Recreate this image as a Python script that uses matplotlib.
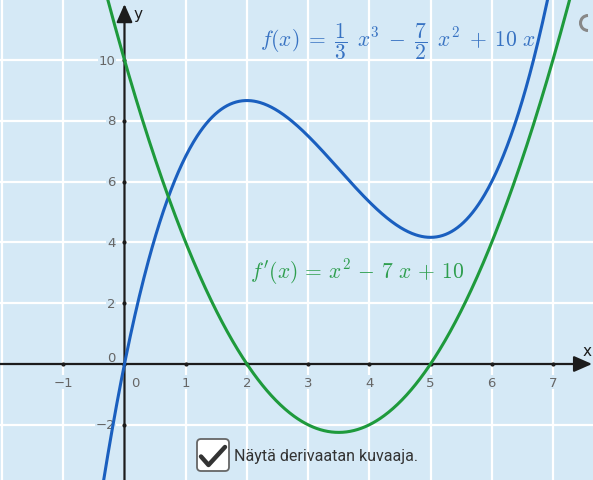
import numpy as np
import matplotlib.pyplot as plt
from matplotlib.patches import FancyBboxPatch, Arc
from matplotlib.lines import Line2D
from matplotlib.transforms import Affine2D

# function and its derivative (coefficients, highest power first)
f_coef = [1 / 3, -7 / 2, 10, 0]
df_coef = [1, -7, 10]

x_ticks = [-1, 0, 1, 2, 3, 4, 5, 6, 7]
x_tick_labels = ['\u22121', '0', '1', '2', '3', '4', '5', '6', '7']
y_ticks = [-2, 0, 2, 4, 6, 8, 10]
y_tick_labels = ['\u22122', '0', '2', '4', '6', '8', '10']
x_grid = [-2, -1, 1, 2, 3, 4, 5, 6, 7]
y_grid = [-2, 2, 4, 6, 8, 10]

f_label = r'$f(x) \;=\; \dfrac{1}{3}\ \, x^3 \;-\; \dfrac{7}{2}\ \, x^2 \;+\; 10\ x$'
df_label = r"$f'(x) \,=\, x^2 \,-\, 7\ x \,+\, 10$"
check_text = 'Näytä derivaatan kuvaaja.'

bg = '#d5e9f6'
blue = '#1a5fbf'
green = '#1e9a3c'
axis_col = '#1c1c1c'
tick_col = '#666666'

plt.rcParams['mathtext.fontset'] = 'cm'

W, H = 593, 481
fig = plt.figure(figsize=(W / 100, H / 100), dpi=100)
fig.patch.set_facecolor(bg)
ax = fig.add_axes([0, 0, 1, 1])
ax.set_axis_off()
ax.set_xlim(-2.034, 7.655)
ax.set_ylim(-3.816, 12.007)

# pixel coords, origin top-left
px = Affine2D().scale(1 / W, -1 / H).translate(0, 1) + fig.transFigure

# grid
for xv in x_grid:
    ax.axvline(xv, color='white', lw=1.6, zorder=1)
for yv in y_grid:
    ax.axhline(yv, color='white', lw=1.6, zorder=1)

# axes with arrows
arrow = dict(arrowstyle='-|>,head_length=0.5,head_width=0.22', color=axis_col,
             lw=1.6, mutation_scale=22, shrinkA=0, shrinkB=0)
ax.annotate('', xy=(7.64, 0), xytext=(-2.1, 0), arrowprops=arrow, zorder=3)
ax.annotate('', xy=(0, 11.84), xytext=(0, -4), arrowprops=arrow, zorder=3)
ax.plot(x_ticks, np.zeros(len(x_ticks)), 'o', ms=2, color=axis_col, zorder=3)
ax.plot(np.zeros(len(y_ticks)), y_ticks, 'o', ms=2, color=axis_col, zorder=3)
ax.text(133, 14, 'y', transform=px, fontsize=11, color=axis_col, va='center', ha='left')
ax.text(583, 352, 'x', transform=px, fontsize=11, color=axis_col, va='center', ha='left')

lbl_box = dict(facecolor=bg, edgecolor='none', pad=0.6)
for xv, lbl in zip(x_ticks, x_tick_labels):
    off = (7.5, -13) if xv == 0 else (0, -13)
    ax.annotate(lbl, (xv, 0), xytext=off, textcoords='offset points', ha='center',
                va='center', fontsize=9.5, color=tick_col, bbox=lbl_box, zorder=2)
for yv, lbl in zip(y_ticks, y_tick_labels):
    off = (-6.5, 5) if yv == 0 else (-6.5, 0)
    ax.annotate(lbl, (0, yv), xytext=off, textcoords='offset points', ha='right',
                va='center', fontsize=9.5, color=tick_col, bbox=lbl_box, zorder=2)

# curves
xs = np.linspace(-2.1, 7.7, 800)
ax.plot(xs, np.polyval(f_coef, xs), color=blue, lw=2.2, zorder=4)
ax.plot(xs, np.polyval(df_coef, xs), color=green, lw=2.2, zorder=5)

ax.text(398, 42, f_label, transform=px, fontsize=15.5, color='#3772c2',
        ha='center', va='center', zorder=6)
ax.text(357, 272, df_label, transform=px, fontsize=15.5, color='#2e9e4e',
        ha='center', va='center', zorder=6)

# checkbox
box = FancyBboxPatch((197, 440), 32, 32, boxstyle='round,pad=0,rounding_size=4',
                     transform=px, facecolor='white', edgecolor='#666666', lw=1.3, zorder=7)
ax.add_patch(box)
ax.add_line(Line2D([201, 208.5, 225], [457.5, 466, 448], transform=px, color='#333333',
                   lw=3.2, solid_capstyle='round', solid_joinstyle='round', zorder=8))
ax.text(234, 457, check_text, transform=px, fontsize=11.5, family='Roboto',
        color='#333333', ha='left', va='center', zorder=8)

# reset icon at top right
ax.add_patch(Arc((588, 24), 15, 15, theta1=90, theta2=270, transform=px,
                 color='#888888', lw=2.2, zorder=8))

fig.savefig('out.png', dpi=100, facecolor=bg)
